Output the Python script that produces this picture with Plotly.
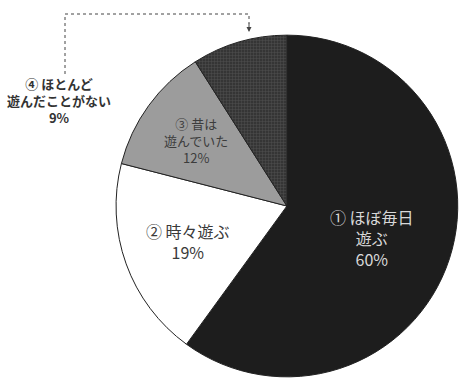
import plotly.graph_objects as go

categories = ["① ほぼ毎日<br>遊ぶ", "② 時々遊ぶ", "③ 昔は<br>遊んでいた", "④ ほとんど<br>遊んだことがない"]
values = [60, 19, 12, 9]
pct_labels = ["60%", "19%", "12%", "9%"]

W, H = 462, 378
fig = go.Figure()
fig.add_trace(go.Pie(
    values=values,
    labels=categories,
    sort=False,
    direction="clockwise",
    rotation=0,
    textinfo="none",
    hoverinfo="label+percent",
    showlegend=False,
    domain=dict(x=[0.251, 0.991], y=[0.003, 0.907]),
    marker=dict(
        colors=["#1d1d1d", "#ffffff", "#9c9c9c", "#353535"],
        line=dict(color="#222222", width=1),
        pattern=dict(shape=["", "", "", "+"], fgcolor="#6a6a6a", size=3,
                     solidity=0.3, fillmode="overlay"),
    ),
))

font_family = "Noto Sans CJK JP"
label_pos = [(372, 238), (188, 241), (196, 140), (59, 100)]
label_size = [16, 16, 13, 13]
label_color = ["#d8d8d8", "#3a3a3a", "#3c3c3c", "#333333"]
for i, (cat, pct) in enumerate(zip(categories, pct_labels)):
    x, y = label_pos[i]
    fig.add_annotation(
        x=x / W, y=1 - y / H, xref="paper", yref="paper",
        xanchor="center", yanchor="middle",
        text=f"{cat}<br>{pct}" if i != 3 else f"<b>{cat}<br>{pct}</b>",
        showarrow=False, align="center",
        font=dict(family=font_family, size=label_size[i], color=label_color[i]),
    )

fig.add_shape(
    type="path", xref="paper", yref="paper",
    path=f"M {65/W} {1-74/H} L {65/W} {1-14/H} L {249/W} {1-14/H} L {249/W} {1-24/H}",
    line=dict(color="#444444", width=1, dash="dot"),
)
fig.add_annotation(
    x=249 / W, y=1 - 32 / H, ax=0, ay=-10,
    xref="paper", yref="paper",
    text="", showarrow=True, arrowhead=2, arrowsize=1, arrowwidth=1, arrowcolor="#444444",
)

fig.update_layout(
    width=W, height=H,
    margin=dict(l=0, r=0, t=0, b=0),
    paper_bgcolor="white", plot_bgcolor="white",
    font=dict(family=font_family),
)
fig.write_html("out.html")
